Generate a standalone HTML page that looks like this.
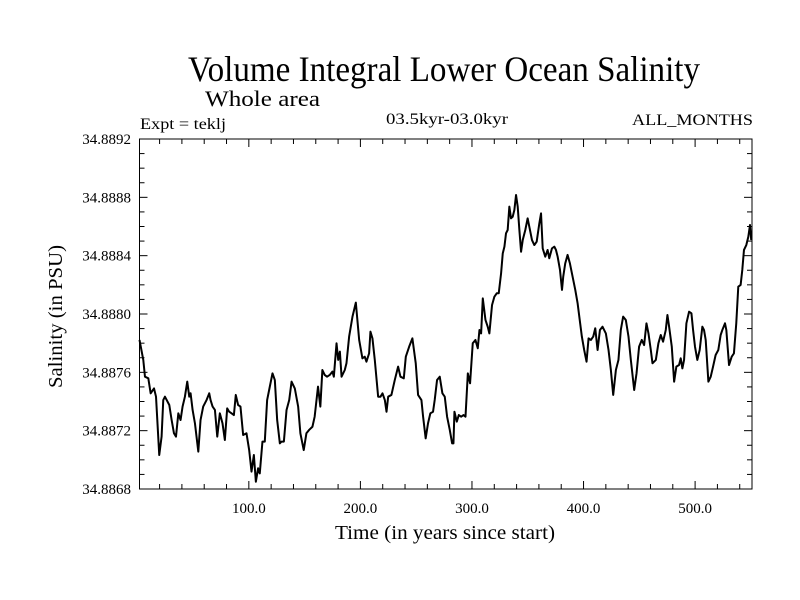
<!DOCTYPE html>
<html><head><meta charset="utf-8"><style>
html,body{margin:0;padding:0;background:#fff;}
svg{display:block;font-family:"Liberation Serif",serif;}
</style></head><body>
<svg id="chart" width="800" height="600" viewBox="0 0 800 600" xmlns="http://www.w3.org/2000/svg">
<rect width="800" height="600" fill="#fff"/>
<text x="188" y="81" font-size="36" textLength="512" lengthAdjust="spacingAndGlyphs">Volume Integral Lower Ocean Salinity</text>
<text x="205" y="106" font-size="22" textLength="115" lengthAdjust="spacingAndGlyphs">Whole area</text>
<text x="140" y="129" font-size="16" textLength="86" lengthAdjust="spacingAndGlyphs">Expt = teklj</text>
<text x="386" y="124" font-size="16" textLength="122" lengthAdjust="spacingAndGlyphs">03.5kyr-03.0kyr</text>
<text x="632" y="125" font-size="16" textLength="121" lengthAdjust="spacingAndGlyphs">ALL_MONTHS</text>
<text x="335" y="539" font-size="20" textLength="220" lengthAdjust="spacingAndGlyphs">Time (in years since start)</text>
<text transform="translate(62,388) rotate(-90)" x="0" y="0" font-size="20" textLength="143" lengthAdjust="spacingAndGlyphs">Salinity (in PSU)</text>
<g id="axes"></g>
<path id="series" fill="none" stroke="#000" stroke-width="2" stroke-linejoin="round"/>
<rect x="139.5" y="139" width="612.5" height="350" fill="none" stroke="#000" stroke-width="1"/>
</svg>
<script>
const years=[2,5.4,6.9,9.9,12,15,16.8,19.7,21.8,23.3,24.8,28.7,30.8,32.9,34.7,36.8,38.8,40.6,42.7,44.8,46.6,47.8,49.6,51.7,54.7,56.7,59.1,62.1,64.5,65.7,67.5,69.6,71.7,74,76.4,78.5,80.6,82.4,84.5,86.6,88.3,90.4,92.5,94.9,97.9,100.3,102.4,104.5,106.3,108.3,109.8,112.2,114.3,116.4,118.8,121.2,123.3,125.4,127.8,129.3,131.4,133.8,136.2,138.3,141.2,144.2,146.2,149.2,151.6,154,157,159,162,164.1,165.9,168,170.1,172.5,174.9,176.2,178.6,180.1,181.6,183.1,186,187.5,189.9,192.9,195.9,198.9,201.8,203.9,205.4,207.8,209,210.8,212.9,215.9,218,219.8,221.9,223.4,224.9,227.8,230.8,233.8,235.9,238.9,240.7,243.7,246.6,249.6,251.7,254.7,256.2,258.5,260.6,262.7,265.1,266.6,268.7,271.1,273.5,275.6,277.7,280.1,282.2,283.4,284.3,286.4,288.2,290.3,292.4,294.2,296.3,298.3,300.7,303.1,305.2,306.7,308.2,309.7,312.1,314.1,315.6,318,320.1,322.2,324,326.1,327.6,329.1,330.5,332,333.5,335,336.5,338,339.5,341,342.5,344,345.5,347.8,349.9,351.4,353.8,355.9,358,360.4,361.9,363.4,365.7,367.8,369.3,371.7,373.8,375.3,376.8,378.9,380.7,381.8,383.6,385.7,387.8,390.2,392.6,394.7,396.2,398.5,400.6,402.7,404.5,406.6,408.7,410.5,412.6,414.7,417,420,422.4,424.5,426.6,429,431.3,433.4,435.5,437.9,440.3,442.4,445.4,447.5,449.8,452.2,454.3,456.4,458.2,460.3,461.8,464.8,467.1,469.2,471.3,473.7,475.2,476.7,479.1,481.2,483.2,485.6,487.1,488.6,490.1,492.2,494.6,496.7,498.2,499.9,502,504.1,506.5,508,509.5,511.9,514,516.1,518.4,520.8,522.9,524.4,526.8,528,530.4,532.8,534.8,536.9,538.7,540.8,542.3,543.8,545.9,547.7,549.2,550.3];
const salinity=[34.887822,34.887685,34.88757,34.887559,34.887456,34.88749,34.887433,34.887033,34.887159,34.88741,34.887433,34.887376,34.887273,34.887182,34.887159,34.887319,34.887273,34.887365,34.887433,34.887536,34.887433,34.887456,34.887342,34.88725,34.887056,34.887273,34.887365,34.88741,34.887456,34.88741,34.887365,34.887342,34.887159,34.887319,34.88725,34.887136,34.887353,34.88733,34.887319,34.887307,34.887445,34.887376,34.887365,34.88717,34.887182,34.887067,34.886919,34.887033,34.88685,34.886942,34.886907,34.887125,34.887125,34.88741,34.887502,34.887593,34.887547,34.887273,34.887113,34.887125,34.887125,34.887342,34.88741,34.887536,34.88749,34.887365,34.887182,34.887067,34.887182,34.887205,34.887227,34.887296,34.887502,34.887365,34.887616,34.887582,34.88757,34.887582,34.887605,34.88757,34.887799,34.887685,34.887742,34.88757,34.887616,34.887662,34.887845,34.887982,34.888078,34.887822,34.887696,34.887707,34.887673,34.88773,34.887879,34.887833,34.887685,34.887433,34.887433,34.887456,34.88741,34.88733,34.887433,34.887445,34.887547,34.887639,34.88757,34.887559,34.887707,34.887776,34.887833,34.887662,34.887445,34.88741,34.887296,34.887147,34.88725,34.887319,34.88733,34.88741,34.887547,34.88757,34.887456,34.887433,34.887296,34.887205,34.887113,34.887113,34.88733,34.887262,34.887307,34.887296,34.887307,34.887296,34.887593,34.887525,34.887799,34.887822,34.887765,34.88789,34.887867,34.888107,34.887959,34.887913,34.887867,34.888062,34.888119,34.888142,34.888142,34.888279,34.888416,34.888462,34.888553,34.888576,34.888736,34.888656,34.888667,34.888713,34.888816,34.888736,34.888576,34.888427,34.888507,34.888576,34.888656,34.888599,34.888507,34.888473,34.888496,34.888622,34.88869,34.88845,34.888393,34.888439,34.888382,34.88845,34.888462,34.888439,34.888393,34.888302,34.888165,34.888256,34.888347,34.888405,34.888347,34.888256,34.888165,34.888073,34.887982,34.887845,34.887753,34.887673,34.887833,34.887822,34.887845,34.887902,34.887753,34.88789,34.887913,34.887867,34.887753,34.887616,34.887445,34.887616,34.887685,34.88789,34.887982,34.887959,34.887845,34.887685,34.887479,34.887593,34.887776,34.887822,34.887787,34.887936,34.887867,34.887753,34.887662,34.887685,34.887799,34.887856,34.88781,34.88789,34.887993,34.887913,34.887776,34.887536,34.887639,34.88765,34.887696,34.887627,34.887685,34.887936,34.888016,34.888005,34.88789,34.887776,34.887685,34.887753,34.887913,34.88789,34.887822,34.887536,34.88757,34.887639,34.887719,34.887753,34.887856,34.88789,34.887936,34.88789,34.88765,34.887707,34.88773,34.887936,34.888187,34.888199,34.888302,34.888439,34.888473,34.88853,34.88861,34.888507];
const xTickValues=[100,200,300,400,500];
const xTickLabels=["100.0","200.0","300.0","400.0","500.0"];
const yTickValues=[34.8868,34.8872,34.8876,34.8880,34.8884,34.8888,34.8892];
const yTickLabels=["34.8868","34.8872","34.8876","34.8880","34.8884","34.8888","34.8892"];

const L=139.5,R=752,T=139,B=489,XMIN=2,XMAX=551,YMIN=34.8868,YMAX=34.8892;
function xs(v){return L+(v-XMIN)/(XMAX-XMIN)*(R-L);}
function ys(v){return B-(v-YMIN)/(YMAX-YMIN)*(B-T);}
const NS="http://www.w3.org/2000/svg";
const axes=document.getElementById('axes');
function line(x1,y1,x2,y2,name){
  const l=document.createElementNS(NS,'line');
  l.setAttribute('x1',x1);l.setAttribute('y1',y1);l.setAttribute('x2',x2);l.setAttribute('y2',y2);
  l.setAttribute('stroke','#000');l.setAttribute('stroke-width','1');
  
  
  axes.appendChild(l);
}
function txt(x,y,s,anchor,name){
  const t=document.createElementNS(NS,'text');
  t.setAttribute('x',x);t.setAttribute('y',y);t.setAttribute('font-size','15');
  t.setAttribute('text-anchor',anchor);t.textContent=s;
  
  
  axes.appendChild(t);
}
// x minor ticks every 20
for(let v=20;v<XMAX;v+=20){
  const major=v%100===0, len=major?8:5, x=xs(v);
  line(x,B,x,B-len,'x-tick');
  line(x,T,x,T+len,'x-tick-top');
}
for(let v=YMIN;v<=YMAX+1e-9;v+=0.0001){
  const k=Math.round((v-YMIN)/0.0001), len=(k%4===0)?8:5, y=ys(v);
  line(L,y,L+len,y,'y-tick');
  line(R,y,R-len,y,'y-tick-right');
}
xTickValues.forEach((v,i)=>txt(xs(v),513,xTickLabels[i],'middle','x-tick-label'));
yTickValues.forEach((v,i)=>txt(131,ys(v)+5,yTickLabels[i],'end','y-tick-label'));
let d='';
years.forEach((yr,i)=>{d+=(i?'L':'M')+xs(yr).toFixed(2)+','+ys(salinity[i]).toFixed(2);});
document.getElementById('series').setAttribute('d',d);
</script>
</body></html>
